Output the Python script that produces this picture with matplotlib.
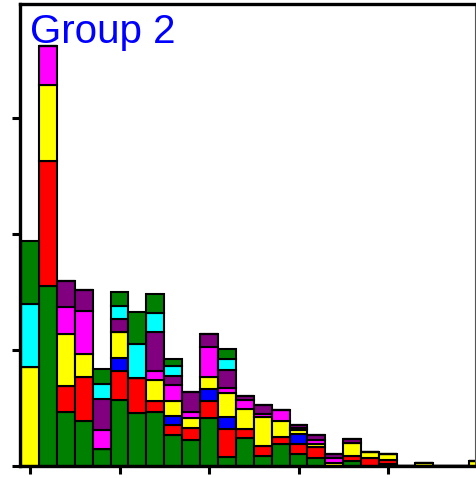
import numpy as np
from matplotlib import pyplot as plt

# bin index along x, one stacked bar per bin
bins = np.arange(26)

# stacked segment heights, bottom to top
green = [0, 15.5, 4.7, 3.9, 1.5, 5.7, 4.6, 4.7, 2.7, 2.2, 4.1, 0.8, 2.4, 0.9, 1.9, 1.0, 0.7, 0, 0.4, 0, 0.2, 0, 0, 0, 0, 0]
red = [0, 10.8, 2.2, 3.8, 0, 2.5, 3.0, 0.9, 0.8, 1.1, 1.5, 2.4, 0.8, 0.8, 0.6, 0.9, 0.9, 0, 0.5, 0.7, 0.3, 0, 0, 0, 0, 0]
blue = [0, 0, 0, 0, 0, 1.1, 0, 0, 0.8, 0, 1.0, 1.0, 0, 0, 0, 0.9, 0, 0, 0, 0, 0, 0, 0, 0, 0, 0]
yellow = [8.5, 6.6, 4.5, 2.0, 0, 2.3, 0, 1.8, 1.3, 0.8, 1.1, 2.1, 1.7, 2.5, 1.4, 0.3, 0.3, 0.3, 1.1, 0.5, 0.5, 0, 0.3, 0, 0, 0.4]
magenta = [0, 3.3, 2.3, 3.7, 1.6, 0, 0, 0.8, 1.4, 0.6, 2.6, 0.4, 0.8, 0.3, 0.9, 0.2, 0.3, 0.4, 0, 0, 0, 0, 0, 0, 0, 0]
purple = [0, 0, 2.3, 1.8, 2.7, 1.1, 0, 3.4, 0.8, 1.7, 1.1, 1.6, 0.3, 0.8, 0, 0.2, 0.5, 0.3, 0.3, 0, 0, 0, 0, 0, 0, 0]
cyan = [5.5, 0, 0, 0, 1.3, 1.1, 2.9, 1.6, 0.8, 0, 0, 0.9, 0, 0, 0, 0, 0, 0, 0, 0, 0, 0, 0, 0, 0, 0]
green_top = [5.4, 0, 0, 0, 1.3, 1.2, 2.8, 1.6, 0.6, 0, 0, 0.9, 0, 0, 0, 0, 0, 0, 0, 0, 0, 0, 0, 0, 0, 0]

series = [green, red, blue, yellow, magenta, purple, cyan, green_top]
colors = ["#008000", "#ff0000", "#0000ff", "#ffff00", "#ff00ff", "#800080", "#00ffff", "#008000"]

fig = plt.figure(figsize=(4.76, 4.78), dpi=100)
ax = fig.add_axes([20 / 476, 12 / 478, 455 / 476, 462.5 / 478])

bottom = np.zeros(len(bins))
for values, color in zip(series, colors):
    values = np.array(values)
    ax.bar(bins, values, width=1.0, bottom=bottom, color=color,
           edgecolor="black", linewidth=1.5)
    bottom += values

ax.set_xlim(-0.56, 24.86)
ax.set_ylim(0, 39.9)
ax.set_xticks([0, 5, 10, 15, 20])
ax.set_yticks([0, 10, 20, 30])
ax.set_xticklabels([])
ax.set_yticklabels([])
ax.tick_params(direction="out", length=6, width=2.2, color="black")

for side in ["left", "top", "bottom"]:
    ax.spines[side].set_linewidth(2.4)
    ax.spines[side].set_color("black")
ax.spines["right"].set_linewidth(0.8)
ax.spines["right"].set_color("#555555")

ax.text(0.022, 0.9146, "Group 2", transform=ax.transAxes, color="#0000ff",
        fontsize=29, family="Liberation Sans", ha="left", va="baseline")

fig.savefig("out.png", dpi=100)
